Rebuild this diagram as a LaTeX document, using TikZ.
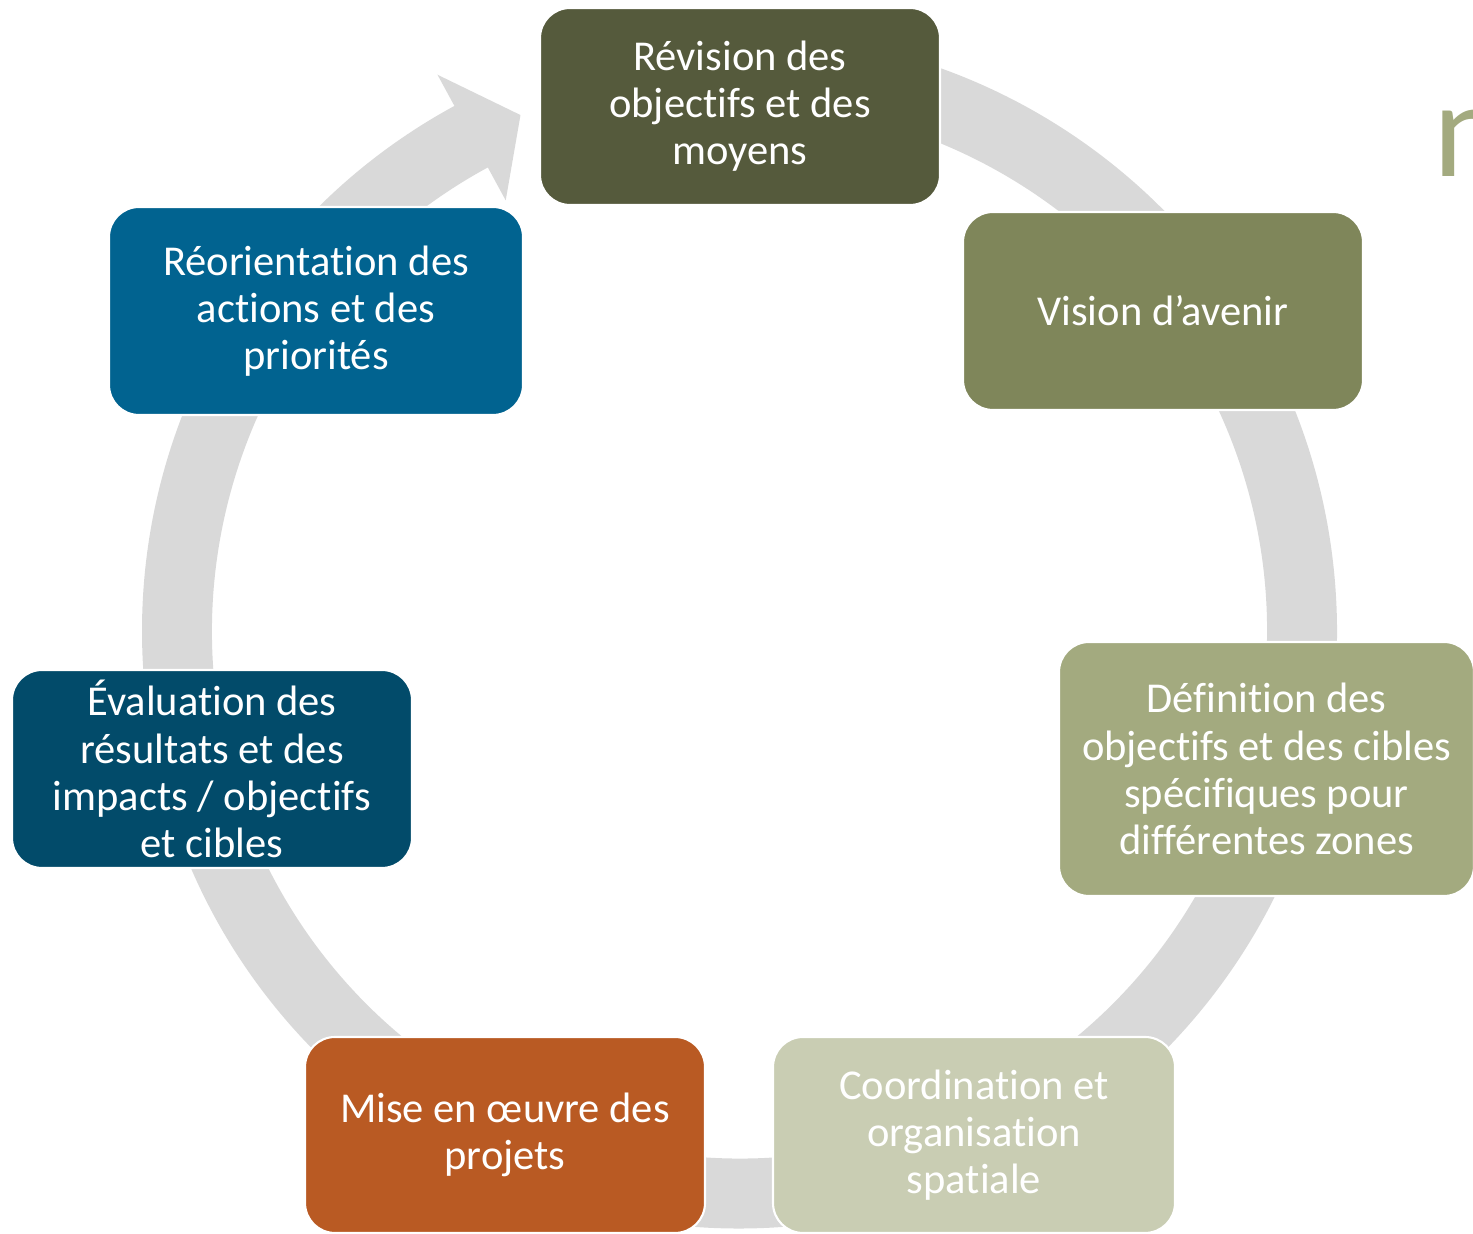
\documentclass[tikz,border=0pt]{standalone}
\usepackage{fontspec}
\setmainfont{Carlito}[Ligatures=NoCommon]
\usepackage{tikz}

\definecolor{ringgray}{HTML}{D9D9D9}
\definecolor{olivedark}{HTML}{555A3C}
\definecolor{olivemid}{HTML}{7F865A}
\definecolor{olivelight}{HTML}{A3AA7F}
\definecolor{olivepale}{HTML}{C9CDB3}
\definecolor{rust}{HTML}{B95A23}
\definecolor{navy}{HTML}{024B6A}
\definecolor{petrol}{HTML}{016390}

\begin{document}
\begin{tikzpicture}[
  stage/.style={rounded corners=0.6cm, draw=white, line width=1.2pt, text=white,
    align=center, inner sep=0pt, font=\fontsize{24.2}{26.8}\selectfont}
]
\useasboundingbox (0,0) rectangle (29.46,24.68);
\coordinate (ctr) at (14.79,12.06);
\fill[ringgray] ([shift={(ctr)}]95:11.95) arc[start angle=95, end angle=-241.5, radius=11.95]
  -- ([shift={(ctr)}]118.5:12.66) -- ([shift={(ctr)}]113:11.21) -- ([shift={(ctr)}]118.5:9.8)
  -- ([shift={(ctr)}]118.5:10.55) arc[start angle=-241.5, end angle=95, radius=10.55] -- cycle;
\node[anchor=base west, inner sep=0pt, text=olivelight, font=\fontsize{78}{80}\selectfont] (title) at (28.66,21.14) {n};
\node[stage, fill=olivedark, minimum width=8cm, minimum height=3.94cm] (revision) at (14.8,22.55) {Révision des\\objectifs et des\\moyens};
\node[stage, fill=olivemid, minimum width=8cm, minimum height=3.96cm] (vision) at (23.26,18.46) {Vision d’avenir};
\node[stage, fill=olivelight, minimum width=8.3cm, minimum height=5.08cm] (definition) at (25.33,9.3) {Définition des\\objectifs et des cibles\\spécifiques pour\\différentes zones};
\node[stage, fill=olivepale, minimum width=8.04cm, minimum height=3.92cm] (coordination) at (19.48,1.98) {Coordination et\\organisation\\spatiale};
\node[stage, fill=rust, minimum width=8cm, minimum height=3.92cm] (miseenoeuvre) at (10.1,1.98) {Mise en œuvre des\\projets};
\node[stage, fill=navy, minimum width=8cm, minimum height=3.96cm] (evaluation) at (4.24,9.3) {Évaluation des\\résultats et des\\impacts / objectifs\\et cibles};
\node[stage, fill=petrol, minimum width=8.28cm, minimum height=4.16cm] (reorientation) at (6.32,18.46) {Réorientation des\\actions et des\\priorités};
\end{tikzpicture}
\end{document}
